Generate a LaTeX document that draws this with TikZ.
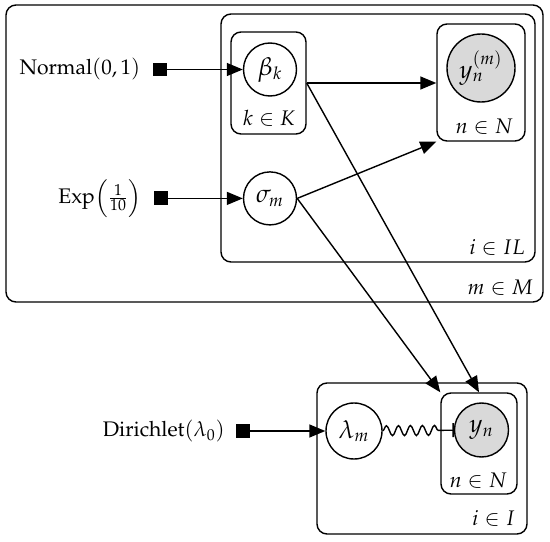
\documentclass[tikz,border=0pt]{standalone}
\usepackage[T1]{fontenc}
\usepackage{mathpazo}
\usetikzlibrary{positioning, arrows.meta, calc, decorations.pathmorphing}

\begin{document}
\begin{tikzpicture}[font=\large, line width=0.8pt, >={Triangle[length=3.2mm, width=2.6mm]},
  latent/.style={draw, circle, inner sep=0pt, minimum size=1.06cm, font=\Large},
  obs/.style={latent, fill=black!15},
  factor/.style={draw, fill=black, inner sep=0pt, minimum size=0.25cm},
  prior/.style={inner sep=0pt},
  plate/.style={draw, rounded corners=2mm, inner sep=0pt},
  platelbl/.style={anchor=east, inner sep=0pt}]
  \useasboundingbox (0,0) rectangle (11,10.82);

  % plates
  \node[plate, minimum width=10.74cm, minimum height=5.94cm] (pM) at (5.49,7.75) {};
  \node[plate, minimum width=6.28cm, minimum height=4.96cm] (pIL) at (7.56,8.06) {};
  \node[plate, minimum width=1.50cm, minimum height=2.04cm] (pK) at (5.37,9.16) {};
  \node[plate, minimum width=1.76cm, minimum height=2.34cm] (pN1) at (9.62,9.17) {};
  \node[plate, minimum width=4.20cm, minimum height=3.02cm] (pI) at (8.44,1.65) {};
  \node[plate, minimum width=1.52cm, minimum height=2.02cm] (pN2) at (9.58,1.95) {};
  \node[platelbl] (lM) at ($(pM.south east)+(-0.2,0.3)$) {$m \in M$};
  \node[platelbl] (lIL) at ($(pIL.south east)+(-0.2,0.3)$) {$i \in IL$};
  \node[platelbl] (lK) at ($(pK.south east)+(-0.22,0.32)$) {$k \in K$};
  \node[platelbl] (lN1) at ($(pN1.south east)+(-0.24,0.3)$) {$n \in N$};
  \node[platelbl] (lI) at ($(pI.south east)+(-0.24,0.32)$) {$i \in I$};
  \node[platelbl] (lN2) at ($(pN2.south east)+(-0.2,0.28)$) {$n \in N$};

  % variables
  \node[latent] (beta) at (5.40,9.43) {$\beta_k$};
  \node[latent, below=1.49cm of beta] (sigma) {$\sigma_m$};
  \node[obs, minimum size=1.36cm] (ym) at (9.62,9.46) {$y_n^{(m)}$};
  \node[latent, minimum size=1.12cm] (lam) at (7.08,2.20) {$\lambda_m$};
  \node[obs, minimum size=1.08cm] (yn) at (9.63,2.22) {$y_n$};

  % priors
  \node[factor, left=1.52cm of beta] (fN) {};
  \node[factor, left=1.5cm of sigma] (fE) {};
  \node[factor, left=1.5cm of lam] (fD) {};
  \node[prior, left=0.24cm of fN] (tN) {$\mathrm{Normal}(0,1)$};
  \node[prior, left=0.24cm of fE] (tE) {$\mathrm{Exp}{\left(\frac{1}{10}\right)}$};
  \node[prior, left=0.22cm of fD] (tD) {$\mathrm{Dirichlet}(\lambda_0)$};

  \draw[->] (fN) -- (beta);
  \draw[->] (fE) -- (sigma);
  \draw[->] (fD) -- (lam);
  \draw[->] (pK.east) -- (pK.east -| pN1.west);
  \draw[->] (sigma.east) -- (pN1.south west);
  \draw[->] (sigma.east) -- (pN2.north west);
  \draw[->] (pK.east) -- (pN2.north);
  \draw[decorate, decoration={snake, amplitude=1mm, segment length=2.4mm, post length=2mm}, -{Bar[width=2.8mm]}] (lam) -- (yn);
\end{tikzpicture}
\end{document}
